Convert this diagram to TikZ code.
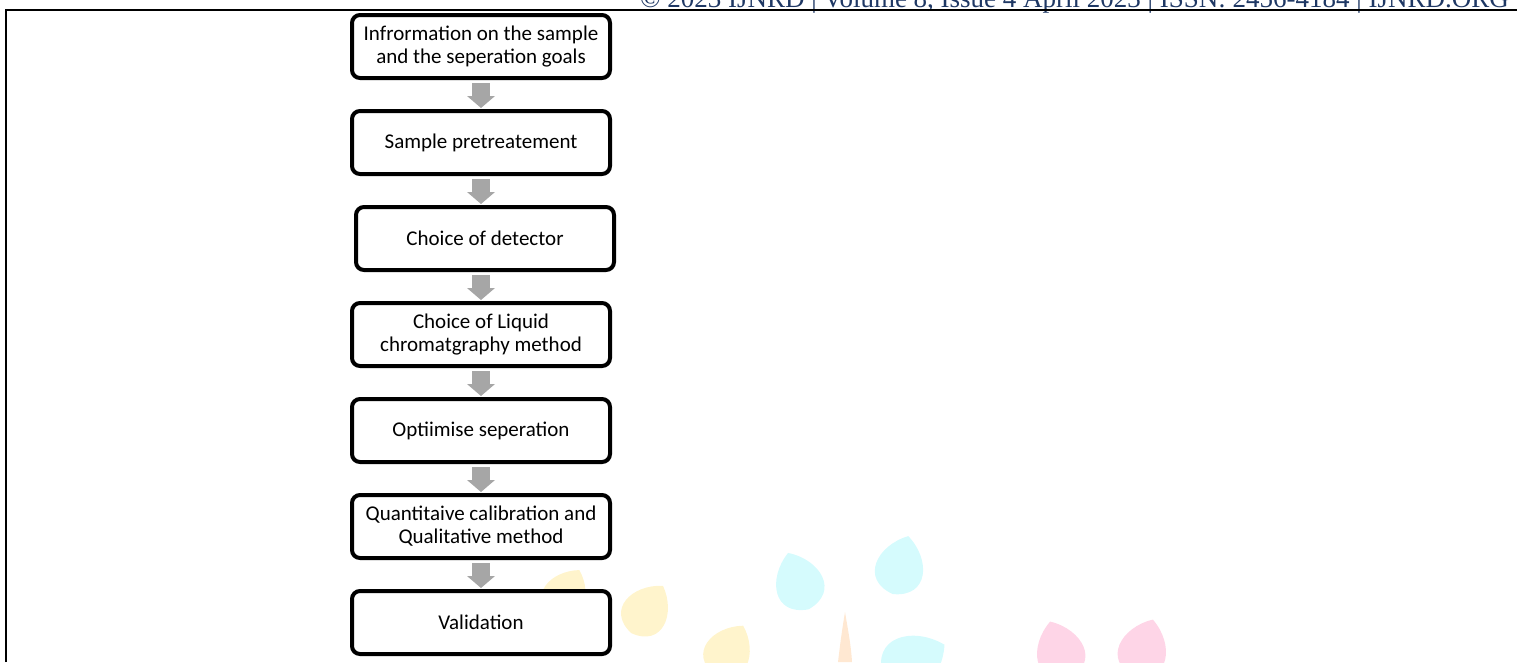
\documentclass[tikz,border=0pt]{standalone}
\usepackage{fontspec}
\setmainfont{Carlito}
\newfontfamily\hdrfont{Liberation Serif}
\usetikzlibrary{arrows.meta,positioning}
\definecolor{arrowgray}{HTML}{A6A6A6}
\definecolor{hdrblue}{HTML}{1F3864}
\definecolor{wmyellow}{HTML}{FFF4CC}
\definecolor{wmcyan}{HTML}{D5FBFD}
\definecolor{wmpink}{HTML}{FED5E7}
\definecolor{wmorange}{HTML}{FFE8D2}
% one faint leaf of the watermark: centre, turn, size, colour
\newcommand\wmleaf[4]{\fill[#4,shift={(#1)},rotate=#2,scale=#3]
  (0,-32) .. controls (28,-15) and (36,22) .. (0,28)
  .. controls (-36,22) and (-28,-15) .. (0,-32) -- cycle;}

\begin{document}
\begin{tikzpicture}[x=1pt,y=-1pt,node distance=96pt]
      \useasboundingbox (0,0) rectangle (1517,662);
      % watermark
      \wmleaf{565,595}{-30}{0.9}{wmyellow}
      \wmleaf{646,611}{-34}{0.95}{wmyellow}
      \wmleaf{728,652}{-30}{0.95}{wmyellow}
      \wmleaf{799,583}{20}{1}{wmcyan}
      \wmleaf{900,567}{-15}{1}{wmcyan}
      \wmleaf{912,662}{-62}{1.15}{wmcyan}
      \wmleaf{1060,652}{18}{1}{wmpink}
      \wmleaf{1143,650}{-18}{1}{wmpink}
      \fill[wmorange] (845,612) .. controls (848,630) and (851,645) .. (852,662)
        -- (838,662) .. controls (840,645) and (842,630) .. (845,612) -- cycle;
      % page header
      \begin{scope}
        \clip (0,0) rectangle (1517,662);
        \node[anchor=base east,inner sep=0pt,text=hdrblue,
          font=\hdrfont\fontsize{27}{27}\selectfont] (hdr) at (1509,7)
          {© 2023 IJNRD | Volume 8, Issue 4 April 2023 | ISSN: 2456-4184 | IJNRD.ORG};
      \end{scope}
      \draw[line width=2pt] (6,662) -- (6,10) -- (1517,10);
      \begin{scope}[every node/.style={draw,line width=4pt,rounded corners=8pt,
          fill=white,minimum width=258pt,minimum height=63pt,align=center,
          font=\fontsize{21}{23}\selectfont}]
        \node (A) at (481,46.5) {Infrormation on the sample\\and the seperation goals};
        \node (B) [below of= A] {Sample pretreatement};
        \node (C) [below of= B,xshift=4pt] {Choice of detector};
        \node (D) [below of= C,xshift=-4pt] {Choice of Liquid\\chromatgraphy method};
        \node (E) [below of= D] {Optiimise seperation};
        \node (F) [below of= E] {Quantitaive calibration and\\Qualitative method};
        \node (G) [below of= F] {Validation};
      \end{scope}
      \begin{scope}
        [every edge/.style={draw= arrowgray, line width=18pt,
          -{Triangle[width=28pt,length=12pt,line width=0pt]},
          shorten <=3pt, shorten >=1pt}]
        \path (A) edge (A |- B.north);
        \path (B) edge (B |- C.north);
        \path (D |- C.south) edge (D);
        \path (D) edge (D |- E.north);
        \path (E) edge (E |- F.north);
        \path (F) edge (F |- G.north);
      \end{scope}
    \end{tikzpicture}
\end{document}
